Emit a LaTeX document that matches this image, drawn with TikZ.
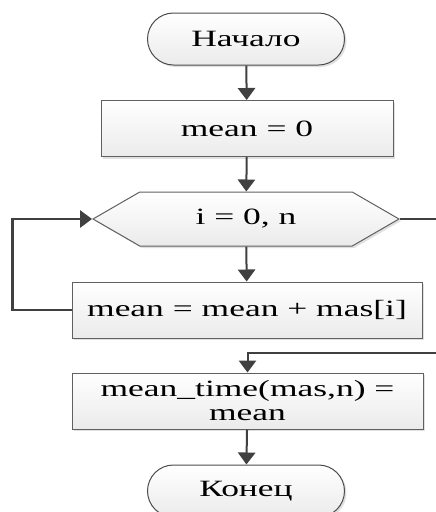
\documentclass[tikz,border=0pt]{standalone}
\usepackage{fontspec}
\setmainfont[FakeStretch=1.52]{Liberation Serif}
\usetikzlibrary{shapes.misc,shapes.symbols,arrows.meta,shadows}

% block looks of the flowchart
\tikzset{
    base/.style={draw=gray!75!black, line width=0.75pt, top color=white, bottom color=gray!16,
        font=\fontsize{17.5}{18}\selectfont, align=center, inner sep=0pt,
        drop shadow={shadow xshift=1.5pt, shadow yshift=-1.5pt, fill=gray!40, opacity=0.6}},
    term/.style={base, draw=black!70, rounded rectangle, minimum width=147.75pt, minimum height=39pt},
    proc/.style={base, rectangle, minimum height=42pt},
    loophex/.style={base, signal, signal to=west and east, signal pointer angle=60,
        minimum width=229.5pt, minimum height=40.5pt},
    wire/.style={draw=black!75, line width=1.5pt},
    flow/.style={wire, -{Triangle[length=9pt,width=13pt]}}
}

\begin{document}
\begin{tikzpicture}[x=0.75pt,y=-0.75pt]
    \useasboundingbox (0,0) rectangle (436,512);

    \node[term] (start) at (246,39) {Начало};
    \node[proc, minimum width=219pt] (init) at (247,128.5) {mean = 0};
    \node[loophex] (loop) at (246,219) {i = 0, n};
    \node[proc, minimum width=262.5pt] (body) at (247,310) {mean = mean + mas[i]};
    \node[proc, minimum width=263.25pt] (result) at (247.5,401) {mean\_time(mas,n) =\\mean};
    \node[term] (stop) at (246,491) {Конец};

    % free ends on the right side
    \coordinate (exitR) at (436,219);
    \coordinate (exitIn) at (436,353);

    \draw[flow] (start) -- (init);
    \draw[flow] (init) -- (loop);
    \draw[flow] (loop) -- (body);
    \draw[flow] (body.west) -- ++(-59,0) |- (loop.west);% back to the loop head
    \draw[wire] (loop.east) -- (exitR);
    \draw[flow] (exitIn) -| (result.north);
    \draw[flow] (result) -- (stop);
\end{tikzpicture}
\end{document}
